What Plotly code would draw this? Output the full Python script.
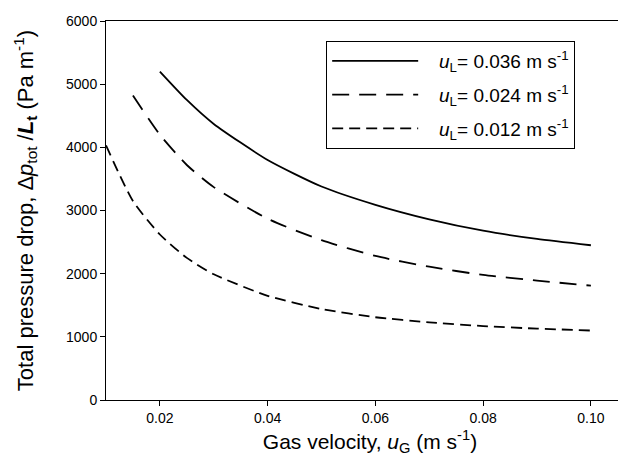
import plotly.graph_objects as go

# Data
ug_036 = [0.02, 0.025, 0.03, 0.04, 0.05, 0.06, 0.07, 0.08, 0.09, 0.10]
dp_036 = [5200, 4750, 4370, 3800, 3380, 3090, 2860, 2680, 2550, 2450]

ug_024 = [0.015, 0.02, 0.025, 0.03, 0.04, 0.05, 0.06, 0.07, 0.08, 0.09, 0.10]
dp_024 = [4820, 4200, 3720, 3370, 2870, 2530, 2280, 2110, 1980, 1890, 1810]

ug_012 = [0.01, 0.015, 0.02, 0.025, 0.03, 0.04, 0.05, 0.06, 0.07, 0.08, 0.09, 0.10]
dp_012 = [4030, 3150, 2620, 2250, 1990, 1650, 1440, 1310, 1230, 1170, 1130, 1100]

x_ticks = [0.02, 0.04, 0.06, 0.08, 0.10]
x_ticklabels = ["0.02", "0.04", "0.06", "0.08", "0.10"]
y_ticks = [0, 1000, 2000, 3000, 4000, 5000, 6000]

PAD = "\u00a0\u00a0\u00a0"
names = [PAD + "<i>u</i><sub>L</sub>= 0.036 m s<sup>-1</sup>",
         PAD + "<i>u</i><sub>L</sub>= 0.024 m s<sup>-1</sup>",
         PAD + "<i>u</i><sub>L</sub>= 0.012 m s<sup>-1</sup>"]

FONT = "Liberation Sans, Arial, sans-serif"

fig = go.Figure()
series = [(ug_036, dp_036, "solid"), (ug_024, dp_024, "17px,10px"), (ug_012, dp_012, "11px,6px")]
for i, (x, y, dash) in enumerate(series):
    fig.add_trace(go.Scatter(
        x=x, y=y, mode="lines", name=names[i], legendgroup=str(i),
        line=dict(color="black", width=1.8, dash=dash, shape="spline", smoothing=0.6),
    ))

fig.update_layout(
    width=626, height=463,
    margin=dict(l=98, r=0, t=13, b=71),
    paper_bgcolor="white", plot_bgcolor="white",
    font=dict(family=FONT, color="black"),
    showlegend=True,
    legend=dict(
        x=0.417, y=0.947, xanchor="left", yanchor="top",
        bordercolor="black", borderwidth=1, bgcolor="white",
        font=dict(size=19, family=FONT), itemwidth=86,
        traceorder="grouped", tracegroupgap=6,
    ),
    xaxis=dict(
        range=[0.01, 0.108], tickvals=x_ticks, ticktext=x_ticklabels,
        showline=True, linecolor="black", linewidth=1, mirror=True,
        ticks="outside", ticklen=5, tickcolor="black", showgrid=False, zeroline=False,
        tickfont=dict(size=14, family=FONT),
        title=dict(text="Gas velocity, <i>u</i><sub>G</sub> (m s<sup>-1</sup>)",
                   font=dict(size=21, family=FONT), standoff=9),
    ),
    yaxis=dict(
        range=[0, 6000], tickvals=y_ticks,
        showline=True, linecolor="black", linewidth=1,
        ticks="outside", ticklen=5, tickcolor="black", showgrid=False, zeroline=False,
        tickfont=dict(size=14, family=FONT),
        title=dict(text="Total pressure drop, \u0394<i>p</i><sub>tot</sub> /<b><i>L</i><sub>t</sub></b> (Pa m<sup>-1</sup>)",
                   font=dict(size=22, family=FONT), standoff=26),
    ),
)

fig.write_html("out.html")
